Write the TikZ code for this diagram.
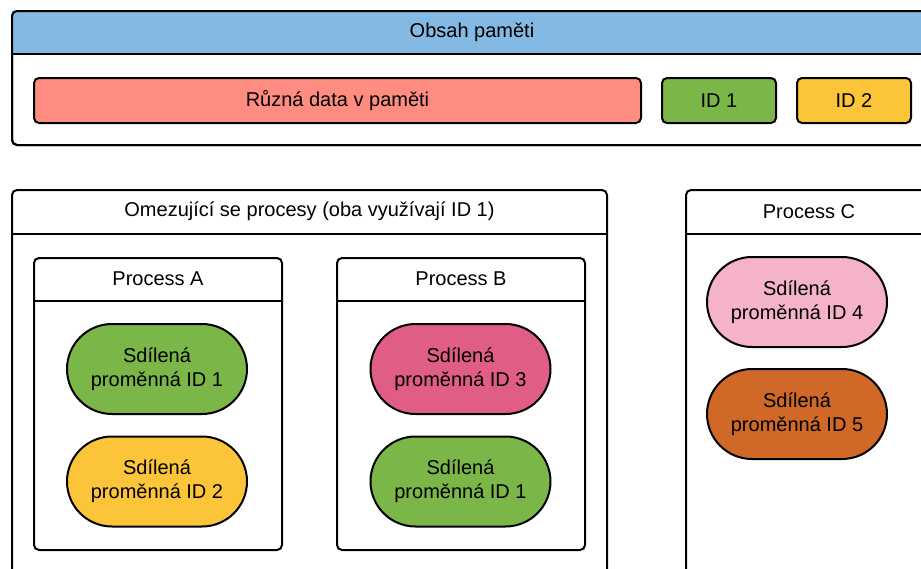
\documentclass[tikz,border=0pt]{standalone}
\usepackage{fontspec}
\setmainfont{Liberation Sans}
\usetikzlibrary{shapes.misc}

\definecolor{hdrblue}{HTML}{83B9E2}
\definecolor{salmon}{HTML}{FE8C80}
\definecolor{idgreen}{HTML}{7AB648}
\definecolor{idyellow}{HTML}{FCC438}
\definecolor{rosepink}{HTML}{E05D86}
\definecolor{lightpink}{HTML}{F4B3C9}
\definecolor{rust}{HTML}{D06827}

\tikzset{
  panel/.style={draw=black, line width=2pt, rounded corners=5pt, fill=white,
    anchor=north west, inner sep=0pt},
  hdr/.style={anchor=north, inner sep=0pt, font=\fontsize{20}{24}\selectfont},
  tag/.style={draw=black, line width=2pt, rounded corners=5pt, anchor=north west,
    minimum height=45pt, inner sep=0pt, font=\fontsize{20}{24}\selectfont},
  pill/.style={rounded rectangle, draw=black, line width=2pt, minimum width=180pt,
    minimum height=90pt, inner sep=0pt, align=center,
    font=\fontsize{20}{24}\selectfont},
  sep/.style={draw=black, line width=2pt}
}

\begin{document}
\begin{tikzpicture}[x=1pt, y=-1pt]
\useasboundingbox (0,0) rectangle (921,568);
\clip (0,0) rectangle (921,568);

% memory contents panel
\node[panel, minimum width=920pt, minimum height=134pt] (mem) at (11,10) {};
\node[hdr, minimum height=44pt, minimum width=920pt] (memhdr) at (mem.north) {};
\begin{scope}
  \clip[rounded corners=5pt] (mem.north west) rectangle (mem.south east);
  \fill[hdrblue] (mem.north west) rectangle (mem.east |- memhdr.south);
\end{scope}
\node[panel, fill=none, minimum width=920pt, minimum height=134pt] at (11,10) {};
\node[hdr] at (memhdr.center) [anchor=center] {Obsah paměti};
\draw[sep] (mem.west |- memhdr.south) -- (mem.east |- memhdr.south);

\node[tag, fill=salmon, minimum width=607pt] (data) at (33,77) {Různá data v paměti};
\node[tag, fill=idgreen, minimum width=114pt] (id1) at (661,77) {ID 1};
\node[tag, fill=idyellow, minimum width=114pt] (id2) at (796,77) {ID 2};

% processes sharing ID 1
\node[panel, minimum width=595pt, minimum height=401pt] (grp) at (11,189) {};
\node[hdr, minimum height=45pt, minimum width=595pt] (grphdr) at (grp.north)
  {\raisebox{0pt}[0pt][0pt]{}};
\node[hdr, anchor=center] at (grphdr.center) {Omezující se procesy (oba využívají ID 1)};
\draw[sep] (grp.west |- grphdr.south) -- (grp.east |- grphdr.south);

% process A
\node[panel, minimum width=248pt, minimum height=292pt] (pa) at (33,257) {};
\node[hdr, minimum height=44pt, minimum width=248pt] (pahdr) at (pa.north) {};
\node[hdr, anchor=center] at (pahdr.center) {Process A};
\draw[sep] (pa.west |- pahdr.south) -- (pa.east |- pahdr.south);
\node[pill, fill=idgreen] (a1) at (157,369) {Sdílená\\proměnná ID 1};
\node[pill, fill=idyellow] (a2) at (157,481.5) {Sdílená\\proměnná ID 2};

% process B
\node[panel, minimum width=248pt, minimum height=292pt] (pb) at (336,257) {};
\node[hdr, minimum height=44pt, minimum width=248pt] (pbhdr) at (pb.north) {};
\node[hdr, anchor=center] at (pbhdr.center) {Process B};
\draw[sep] (pb.west |- pbhdr.south) -- (pb.east |- pbhdr.south);
\node[pill, fill=rosepink] (b1) at (460.5,369) {Sdílená\\proměnná ID 3};
\node[pill, fill=idgreen] (b2) at (460.5,481.5) {Sdílená\\proměnná ID 1};

% process C
\node[panel, minimum width=246pt, minimum height=401pt] (pc) at (685,189) {};
\node[hdr, minimum height=45pt, minimum width=246pt] (pchdr) at (pc.north) {};
\node[hdr, anchor=center] at (pchdr.center) {Process C};
\draw[sep] (pc.west |- pchdr.south) -- (pc.east |- pchdr.south);
\node[pill, fill=lightpink] (c1) at (797,302) {Sdílená\\proměnná ID 4};
\node[pill, fill=rust] (c2) at (797,414) {Sdílená\\proměnná ID 5};
\end{tikzpicture}
\end{document}
